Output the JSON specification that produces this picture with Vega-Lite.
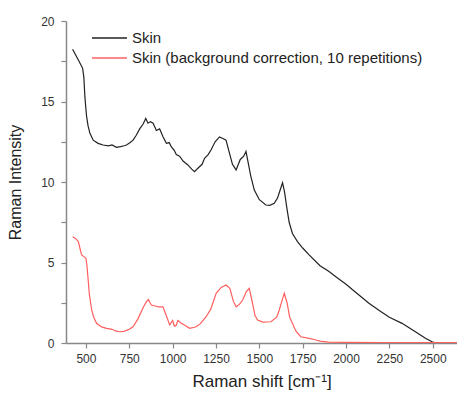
{
  "$schema": "https://vega.github.io/schema/vega-lite/v6.json",
  "autosize": {"type": "none"},
  "width": 391,
  "height": 322,
  "padding": {"left": 66, "top": 21, "right": 0, "bottom": 51},
  "background": "white",
  "config": {
    "view": {"stroke": null},
    "font": "Liberation Sans"
  },
  "datasets": {
    "skin": [
      {"x":423,"y":18.24},{"x":440,"y":17.9},{"x":460,"y":17.5},{"x":481,"y":17.06},{"x":488,"y":16.5},{"x":494,"y":15.3},{"x":500,"y":14.5},{"x":504,"y":14.06},{"x":512,"y":13.5},{"x":523,"y":13.02},{"x":542,"y":12.6},{"x":570,"y":12.4},{"x":599,"y":12.3},{"x":630,"y":12.25},{"x":650,"y":12.3},{"x":676,"y":12.15},{"x":700,"y":12.2},{"x":720,"y":12.25},{"x":734,"y":12.3},{"x":755,"y":12.45},{"x":772,"y":12.6},{"x":790,"y":12.9},{"x":810,"y":13.3},{"x":830,"y":13.6},{"x":845,"y":13.95},{"x":858,"y":13.65},{"x":872,"y":13.75},{"x":887,"y":13.65},{"x":900,"y":13.35},{"x":906,"y":13.2},{"x":925,"y":13.3},{"x":945,"y":12.8},{"x":964,"y":12.4},{"x":980,"y":12.45},{"x":992,"y":12.2},{"x":1010,"y":11.95},{"x":1021,"y":11.7},{"x":1040,"y":11.6},{"x":1060,"y":11.3},{"x":1088,"y":11.06},{"x":1110,"y":10.8},{"x":1126,"y":10.64},{"x":1150,"y":10.9},{"x":1170,"y":11.1},{"x":1184,"y":11.47},{"x":1205,"y":11.7},{"x":1222,"y":12.0},{"x":1245,"y":12.5},{"x":1270,"y":12.8},{"x":1290,"y":12.7},{"x":1308,"y":12.6},{"x":1325,"y":11.9},{"x":1345,"y":11.1},{"x":1366,"y":10.75},{"x":1390,"y":11.4},{"x":1410,"y":11.6},{"x":1423,"y":11.9},{"x":1432,"y":11.4},{"x":1450,"y":10.4},{"x":1471,"y":9.5},{"x":1500,"y":8.9},{"x":1538,"y":8.57},{"x":1560,"y":8.55},{"x":1586,"y":8.68},{"x":1605,"y":9.0},{"x":1620,"y":9.5},{"x":1634,"y":9.95},{"x":1645,"y":9.4},{"x":1660,"y":8.3},{"x":1672,"y":7.5},{"x":1691,"y":6.8},{"x":1720,"y":6.3},{"x":1750,"y":5.9},{"x":1787,"y":5.47},{"x":1850,"y":4.8},{"x":1900,"y":4.45},{"x":1941,"y":4.12},{"x":2000,"y":3.65},{"x":2050,"y":3.2},{"x":2132,"y":2.47},{"x":2200,"y":1.95},{"x":2250,"y":1.6},{"x":2323,"y":1.22},{"x":2400,"y":0.7},{"x":2458,"y":0.29},{"x":2496,"y":0.08},{"x":2520,"y":0.0},{"x":2640,"y":0.0}
    ],
    "corr": [
      {"x":423,"y":6.6},{"x":440,"y":6.5},{"x":456,"y":6.3},{"x":465,"y":5.9},{"x":475,"y":5.47},{"x":490,"y":5.35},{"x":500,"y":5.26},{"x":506,"y":4.8},{"x":513,"y":3.9},{"x":520,"y":3.0},{"x":533,"y":2.05},{"x":545,"y":1.6},{"x":561,"y":1.22},{"x":590,"y":1.0},{"x":619,"y":0.91},{"x":650,"y":0.85},{"x":670,"y":0.75},{"x":695,"y":0.7},{"x":720,"y":0.72},{"x":750,"y":0.85},{"x":772,"y":1.01},{"x":800,"y":1.5},{"x":830,"y":2.2},{"x":849,"y":2.57},{"x":860,"y":2.7},{"x":877,"y":2.36},{"x":900,"y":2.3},{"x":920,"y":2.25},{"x":944,"y":2.25},{"x":960,"y":1.8},{"x":983,"y":1.12},{"x":1000,"y":1.4},{"x":1010,"y":1.05},{"x":1021,"y":1.1},{"x":1030,"y":1.4},{"x":1040,"y":1.32},{"x":1050,"y":1.22},{"x":1070,"y":1.1},{"x":1098,"y":0.91},{"x":1115,"y":0.95},{"x":1136,"y":1.01},{"x":1160,"y":1.2},{"x":1193,"y":1.63},{"x":1220,"y":2.1},{"x":1251,"y":3.08},{"x":1280,"y":3.45},{"x":1308,"y":3.6},{"x":1330,"y":3.4},{"x":1350,"y":2.6},{"x":1366,"y":2.25},{"x":1385,"y":2.4},{"x":1404,"y":2.67},{"x":1425,"y":3.2},{"x":1442,"y":3.4},{"x":1460,"y":2.5},{"x":1475,"y":1.7},{"x":1490,"y":1.43},{"x":1520,"y":1.3},{"x":1567,"y":1.32},{"x":1600,"y":1.6},{"x":1615,"y":2.05},{"x":1630,"y":2.6},{"x":1644,"y":3.08},{"x":1660,"y":2.5},{"x":1675,"y":1.6},{"x":1691,"y":1.22},{"x":1710,"y":0.75},{"x":1739,"y":0.39},{"x":1787,"y":0.29},{"x":1820,"y":0.2},{"x":1850,"y":0.12},{"x":1900,"y":0.06},{"x":2000,"y":0.04},{"x":2200,"y":0.03},{"x":2640,"y":0.03}
    ]
  },
  "layer": [
    {
      "data": {"name": "skin"},
      "transform": [{"calculate": "'Skin'", "as": "series"}],
      "mark": {"type": "line", "strokeWidth": 1.2, "clip": true},
      "encoding": {
        "x": {"field": "x", "type": "quantitative"},
        "y": {"field": "y", "type": "quantitative"},
        "color": {"field": "series", "type": "nominal"}
      }
    },
    {
      "data": {"name": "corr"},
      "transform": [{"calculate": "'Skin (background correction, 10 repetitions)'", "as": "series"}],
      "mark": {"type": "line", "strokeWidth": 1.2, "clip": true},
      "encoding": {
        "x": {
          "field": "x", "type": "quantitative",
          "scale": {"domain": [385, 2640], "nice": false, "zero": false},
          "axis": {
            "title": "Raman shift [cm\u207b\u00b9]",
            "values": [500,625,750,875,1000,1125,1250,1375,1500,1625,1750,1875,2000,2125,2250,2375,2500,2625],
            "labelExpr": "datum.value % 250 === 0 ? datum.label : ''",
            "format": "d",
            "grid": false,
            "domainColor": "#888", "domainWidth": 1.5,
            "tickColor": "#888", "tickWidth": 1.2, "tickSize": 5,
            "labelColor": "#333", "labelFontSize": 12, "labelPadding": 5, "labelFlush": false,
            "titleColor": "#222", "titleFontSize": 17, "titleFontWeight": "normal", "titlePadding": 9
          }
        },
        "y": {
          "field": "y", "type": "quantitative",
          "scale": {"domain": [0, 20], "nice": false},
          "axis": {
            "title": "Raman Intensity",
            "values": [0,2.5,5,7.5,10,12.5,15,17.5,20],
            "labelExpr": "datum.value % 5 === 0 ? datum.label : ''",
            "grid": false,
            "domainColor": "#888", "domainWidth": 1.5,
            "tickColor": "#888", "tickWidth": 1.2, "tickSize": 5,
            "labelColor": "#333", "labelFontSize": 12, "labelPadding": 7,
            "titleColor": "#222", "titleFontSize": 16, "titleFontWeight": "normal", "titlePadding": 17
          }
        },
        "color": {
          "field": "series", "type": "nominal",
          "scale": {"domain": ["Skin", "Skin (background correction, 10 repetitions)"], "range": ["#222222", "#ff5f5f"]},
          "legend": {
            "title": null, "orient": "none", "legendX": 25, "legendY": 9,
            "symbolType": "M-1,0H4", "symbolSize": 196, "symbolStrokeWidth": 1.5,
            "labelFontSize": 15, "labelColor": "#222", "labelOffset": 25, "rowPadding": 4, "labelLimit": 400
          }
        }
      }
    }
  ]
}
